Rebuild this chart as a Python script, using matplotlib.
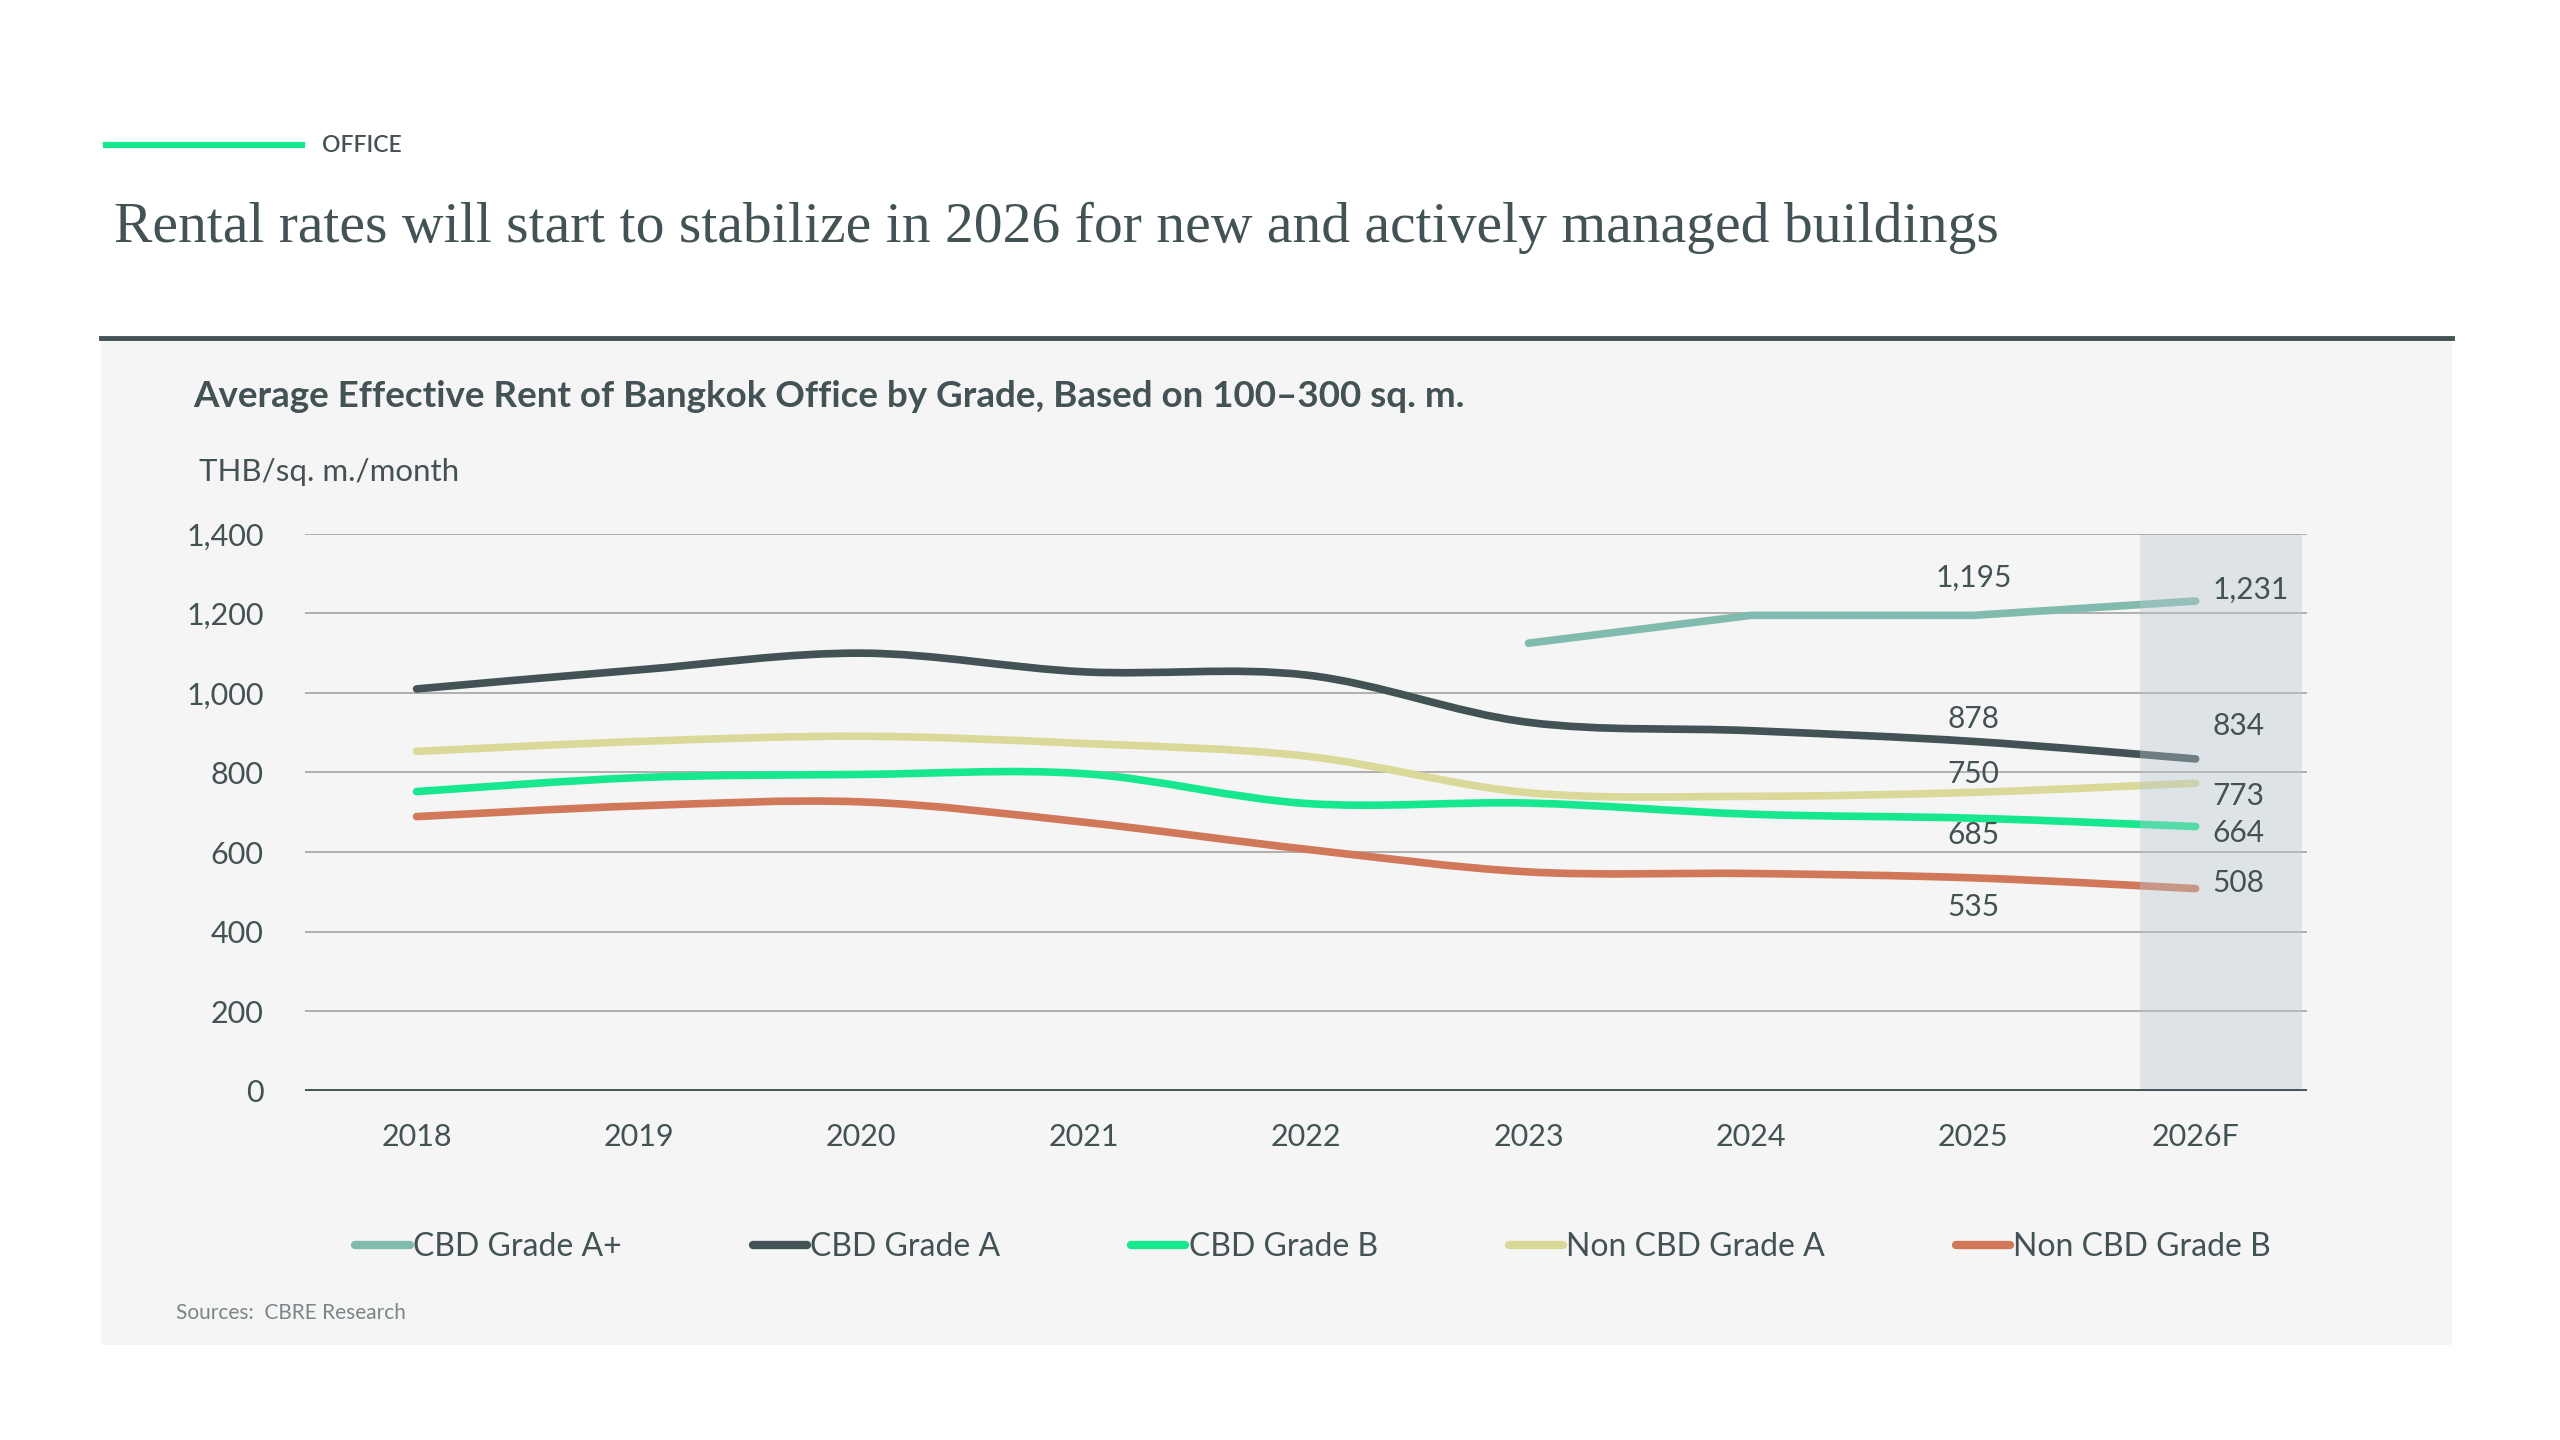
import numpy as np
import matplotlib
matplotlib.use('Agg')
import matplotlib.pyplot as plt
from matplotlib.path import Path
from matplotlib.patches import PathPatch, Rectangle
from matplotlib.lines import Line2D

plt.rcParams['font.family'] = ['Lato', 'DejaVu Sans']

# data (THB/sq. m./month)
years = ['2018', '2019', '2020', '2021', '2022', '2023', '2024', '2025', '2026F']
cbd_a_plus = [np.nan, np.nan, np.nan, np.nan, np.nan, 1125, 1195, 1195, 1231]
cbd_a = [1010, 1058, 1100, 1053, 1045, 926, 905, 878, 834]
cbd_b = [752, 787, 795, 797, 722, 723, 695, 685, 664]
non_cbd_a = [853, 878, 891, 873, 841, 749, 740, 750, 773]
non_cbd_b = [689, 716, 726, 675, 607, 550, 546, 535, 508]
series_names = ['CBD Grade A+', 'CBD Grade A', 'CBD Grade B', 'Non CBD Grade A', 'Non CBD Grade B']

TXT = '#435254'
colors = ['#80bbad', '#435254', '#17e88f', '#dbd99a', '#d2785a']


def smooth_path(xs, ys, k=1/6.0):
    # catmull-rom style bezier through the points
    n = len(xs)
    verts = [(xs[0], ys[0])]
    codes = [Path.MOVETO]
    for i in range(n - 1):
        x0, y0 = (xs[i-1], ys[i-1]) if i > 0 else (xs[i], ys[i])
        x3, y3 = (xs[i+2], ys[i+2]) if i + 2 < n else (xs[i+1], ys[i+1])
        c1 = (xs[i] + (xs[i+1] - x0) * k, ys[i] + (ys[i+1] - y0) * k)
        c2 = (xs[i+1] - (x3 - xs[i]) * k, ys[i+1] - (y3 - ys[i]) * k)
        verts += [c1, c2, (xs[i+1], ys[i+1])]
        codes += [Path.CURVE4] * 3
    return Path(verts, codes)


fig = plt.figure(figsize=(25.6, 14.4), dpi=100)
fig.patch.set_facecolor('white')

# grey panel + dark rule
fig.add_artist(Rectangle((0.0395, 0.0658), 0.9184, 0.6995, transform=fig.transFigure,
                         facecolor='#f5f5f5', edgecolor='none', zorder=0))
fig.add_artist(Line2D([0.0395, 0.9579], [0.7653, 0.7653], transform=fig.transFigure,
                      color=TXT, lw=3.5, zorder=1))

# header
fig.add_artist(Line2D([0.0415, 0.118], [0.899, 0.899], transform=fig.transFigure,
                      color='#17e88f', lw=4.5))
fig.text(0.1256, 0.899, 'OFFICE', fontsize=16.5, color=TXT, va='center', fontweight='semibold')
fig.text(0.0446, 0.8415, 'Rental rates will start to stabilize in 2026 for new and actively managed buildings',
         fontsize=41.5, color=TXT, va='center', family=['Liberation Serif', 'DejaVu Serif'])
fig.text(0.0753, 0.7245, 'Average Effective Rent of Bangkok Office by Grade, Based on 100\u2013300 sq. m.',
         fontsize=26.5, color=TXT, va='center', fontweight='bold')
fig.text(0.0778, 0.6723, 'THB/sq. m./month', fontsize=22.5, color=TXT, va='center')
fig.text(0.0689, 0.0884, 'Sources:  CBRE Research', fontsize=15, color='#7a8588', va='center')

ax = fig.add_axes([0.1193, 0.2426, 0.7818, 0.3867])
ax.patch.set_alpha(0)
x = np.arange(len(years))

all_series = [cbd_a_plus, cbd_a, cbd_b, non_cbd_a, non_cbd_b]
for vals, c in zip(all_series, colors):
    v = np.array(vals, dtype=float)
    ok = ~np.isnan(v)
    if ok.sum() < len(v):
        ax.plot(x[ok], v[ok], color=c, lw=5.5, solid_capstyle='round', zorder=3)
    else:
        ax.add_patch(PathPatch(smooth_path(x, v), facecolor='none', edgecolor=c,
                               lw=5.5, capstyle='round', zorder=3))

# forecast column
ax.axvspan(7.75, 8.48, ymin=0, ymax=0.997, facecolor='#b8c8cf', alpha=0.38,
           edgecolor='none', zorder=4)

ax.set_xlim(-0.5, 8.5)
ax.set_ylim(0, 1400)
ax.set_yticks(np.arange(0, 1401, 200))
ax.set_yticklabels([f'{t:,}' for t in range(0, 1401, 200)])
ax.set_xticks(x)
ax.set_xticklabels(years)
ax.tick_params(length=0, labelsize=22, labelcolor=TXT)
ax.tick_params(axis='x', pad=23.5)
ax.tick_params(axis='y', pad=30)
for s in ax.spines.values():
    s.set_visible(False)
ax.yaxis.grid(True, color='#a9a9a9', lw=1.3, zorder=1)
ax.set_axisbelow(True)
ax.axhline(0, color=TXT, lw=3.5, zorder=5)

# data labels: 2025 and 2026F
lab_2025 = [(cbd_a_plus[7], 27), (cbd_a[7], 16), (non_cbd_a[7], 13), (cbd_b[7], -12), (non_cbd_b[7], -21)]
for v, dy in lab_2025:
    ax.annotate(f'{v:,.0f}', (7, v), xytext=(0, dy), textcoords='offset points',
                ha='center', va='center', fontsize=21.5, color=TXT, zorder=6)
lab_2026 = [(cbd_a_plus[8], 8), (cbd_a[8], 24), (non_cbd_a[8], -9), (cbd_b[8], -5), (non_cbd_b[8], 4)]
for v, dy in lab_2026:
    ax.annotate(f'{v:,.0f}', (8, v), xytext=(12, dy), textcoords='offset points',
                ha='left', va='center', fontsize=21.5, color=TXT, zorder=6)

handles = [Line2D([], [], color=c, lw=6, solid_capstyle='round') for c in colors]
fig.legend(handles, series_names, loc='center', bbox_to_anchor=(0.513, 0.1338), ncol=5,
           frameon=False, fontsize=23, labelcolor=TXT, handlelength=1.7,
           handletextpad=0.1, columnspacing=4.1)

fig.savefig('out.png', dpi=100, facecolor='white')
